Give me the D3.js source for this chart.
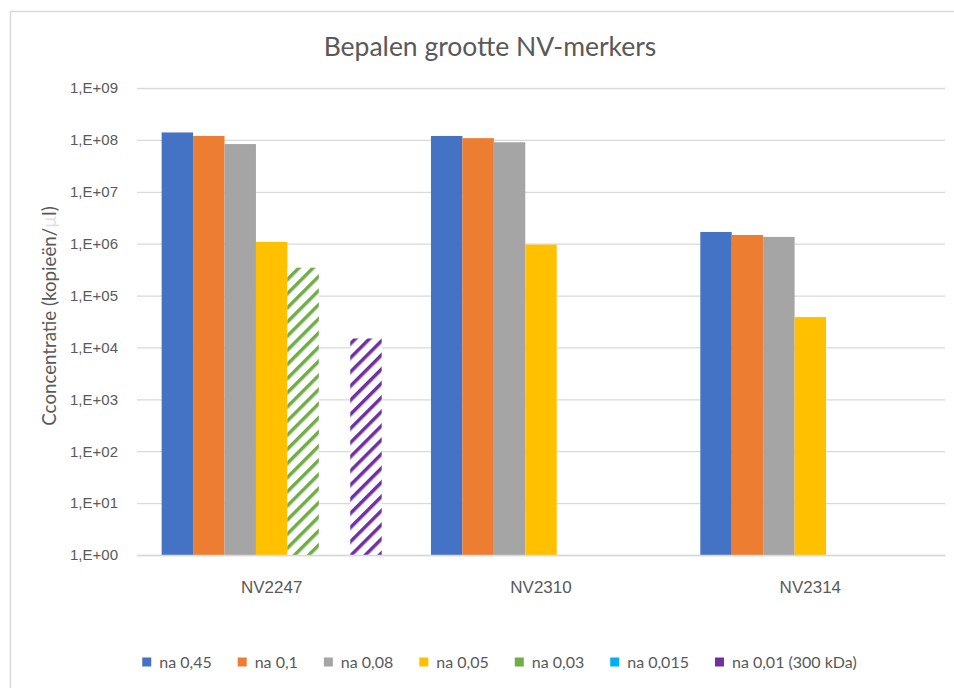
<!DOCTYPE html>
<html>
<head>
<meta charset="utf-8">
<script src="https://cdn.jsdelivr.net/npm/d3@7"></script>
<style>
  body { margin: 0; background: #fff; }
  svg { display: block; font-family: Lato, "Open Sans", sans-serif; }
</style>
</head>
<body>
<div id="chart"></div>
<script>
const GRID = "#d9d9d9"
const TEXT = "#595959"

// data
const markers = ["NV2247", "NV2310", "NV2314"];
const seriesNames = ["na 0,45", "na 0,1", "na 0,08", "na 0,05", "na 0,03", "na 0,015", "na 0,01 (300 kDa)"];
const seriesColors = ["#4472c4", "#ed7d31", "#a5a5a5", "#ffc000", "#70ad47", "#00b0f0", "#7030a0"];
const hatched = [false, false, false, false, true, true, true];
// values per series, in marker order (null = no bar)
const na045 = [1.39e8, 1.19e8, 1.68e6];
const na01 = [1.19e8, 1.08e8, 1.47e6];
const na008 = [8.3e7, 9.0e7, 1.35e6];
const na005 = [1.08e6, 9.6e5, 3.85e4];
const na003 = [3.45e5, null, null];
const na0015 = [null, null, null];
const na001 = [1.49e4, null, null];
const yTicks = [1e0, 1e1, 1e2, 1e3, 1e4, 1e5, 1e6, 1e7, 1e8, 1e9];

const seriesValues = [na045, na01, na008, na005, na003, na0015, na001];

const W = 954, H = 688;
const margin = {top: 88, left: 137, right: 9, bottom: 133};
const plotW = W - margin.left - margin.right;
const plotH = H - margin.top - margin.bottom;

const svg = d3.select("#chart").append("svg")
  .attr("width", W)
  .attr("height", H);

// hatch patterns for the lighter (dashed) series
const defs = svg.append("defs");
seriesColors.forEach((c, i) => {
  if (!hatched[i]) return;
  const p = defs.append("pattern")
    .attr("id", "hatch" + i)
    .attr("patternUnits", "userSpaceOnUse")
    .attr("width", 10)
    .attr("height", 10)
    .attr("patternTransform", "rotate(45)");
  p.append("rect").attr("width", 10).attr("height", 10).attr("fill", "#fff");
  p.append("rect").attr("x", 0).attr("width", 3.5).attr("height", 10).attr("fill", c);
});

// chart area frame (only top and left show in the crop)
svg.append("path")
  .attr("d", "M10.5," + H + "V11.5H" + W)
  .attr("fill", "none")
  .attr("stroke", GRID)
  .attr("stroke-width", 1.5);

const g = svg.append("g")
  .attr("transform", "translate(" + margin.left + "," + margin.top + ")");

const x = d3.scaleBand()
  .domain(markers)
  .range([0, plotW])
  .paddingInner(0.183)
  .paddingOuter(0.0915);

const xs = d3.scaleBand()
  .domain(d3.range(seriesNames.length))
  .range([0, x.bandwidth()]);

const y = d3.scaleLog()
  .domain([1, 1e9])
  .range([plotH, 0]);

// gridlines + tick labels
const yAxis = g.append("g")
  .call(d3.axisLeft(y)
    .tickValues(yTicks)
    .tickSize(-plotW)
    .tickPadding(19)
    .tickFormat(d => "1,E+" + String(Math.round(Math.log10(d))).padStart(2, "0")));
yAxis.select(".domain").remove();
yAxis.selectAll(".tick line")
  .attr("stroke", GRID)
  .attr("stroke-width", 1.3);
yAxis.selectAll(".tick text")
  .attr("fill", TEXT)
  .style("font-size", "15px");

// bars
seriesValues.forEach((vals, si) => {
  g.append("g").selectAll("rect")
    .data(markers.map((m, i) => ({m: m, v: vals[i]})).filter(d => d.v != null))
    .join("rect")
    .attr("x", d => x(d.m) + xs(si))
    .attr("y", d => y(d.v))
    .attr("width", xs.bandwidth())
    .attr("height", d => plotH - y(d.v))
    .attr("fill", hatched[si] ? "url(#hatch" + si + ")" : seriesColors[si]);
});

// x axis baseline + labels
const xAxis = g.append("g")
  .attr("transform", "translate(0," + plotH + ")")
  .call(d3.axisBottom(x).tickSize(0).tickPadding(26));
xAxis.select(".domain").attr("stroke", GRID).attr("stroke-width", 1.5);
xAxis.selectAll(".tick text")
  .attr("fill", TEXT)
  .style("font-size", "17px");

// title
svg.append("text")
  .attr("x", 490)
  .attr("y", 56)
  .attr("text-anchor", "middle")
  .attr("fill", TEXT)
  .style("font-size", "26.5px")
  .text("Bepalen grootte NV-merkers");

// y axis title
const yt = svg.append("text")
  .attr("transform", "translate(56,316) rotate(-90)")
  .attr("text-anchor", "middle")
  .attr("fill", TEXT)
  .style("font-size", "18.7px");
yt.append("tspan").text("Cconcentratie (kopieën/");
yt.append("tspan").attr("fill", "#e0e0e0").text("µ");
yt.append("tspan").text("l)");

// legend
const legend = svg.append("g").attr("transform", "translate(0,662)");
const items = legend.selectAll("g")
  .data(seriesNames)
  .join("g");
items.append("rect")
  .attr("y", -4.5)
  .attr("width", 9)
  .attr("height", 9)
  .attr("fill", (d, i) => seriesColors[i]);
items.append("text")
  .attr("x", 17)
  .attr("dy", "0.35em")
  .attr("fill", TEXT)
  .style("font-size", "16px")
  .text(d => d);

let lx = 0;
const offsets = [];
items.each(function() {
  offsets.push(lx);
  lx += this.getBBox().width + 26;
});
const total = lx - 26;
const start = 499.5 - total / 2;
items.attr("transform", (d, i) => "translate(" + (start + offsets[i]) + ",0)");
</script>
</body>
</html>
